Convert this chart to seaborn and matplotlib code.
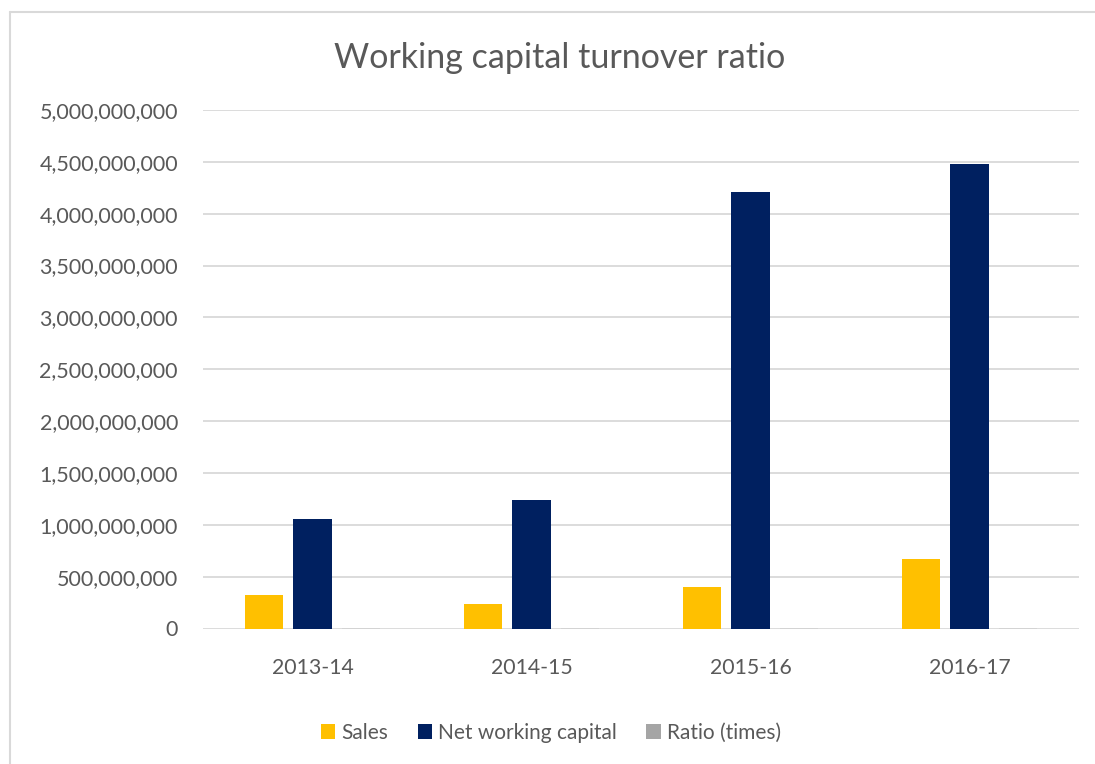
import matplotlib
matplotlib.use("Agg")
import matplotlib.pyplot as plt
from matplotlib.lines import Line2D
from matplotlib.ticker import FuncFormatter, MultipleLocator
import seaborn as sns
import pandas as pd

# Financial years and the three reported series
years = ["2013-14", "2014-15", "2015-16", "2016-17"]
sales = [323_000_000, 236_000_000, 398_000_000, 670_000_000]
net_working_capital = [1_054_000_000, 1_240_000_000, 4_206_000_000, 4_484_000_000]
ratio_times = [0.31, 0.19, 0.09, 0.15]

series_names = ["Sales", "Net working capital", "Ratio (times)"]
series_colors = ["#FFC000", "#002060", "#A5A5A5"]

rows = []
for name, values in zip(series_names, [sales, net_working_capital, ratio_times]):
    for yr, v in zip(years, values):
        rows.append({"Year": yr, "Series": name, "Value": v})
df = pd.DataFrame(rows)

sns.set_theme(style="white")
plt.rcParams["font.family"] = ["Lato", "DejaVu Sans"]

text_color = "#595959"
grid_color = "#D9D9D9"

fig = plt.figure(figsize=(10.95, 7.64), dpi=100)
ax = fig.add_axes([203 / 1095, 1 - 628.5 / 764, (1079 - 203) / 1095, (628.5 - 110) / 764])

sns.barplot(
    data=df, x="Year", y="Value", hue="Series", order=years, hue_order=series_names,
    palette=series_colors, width=0.665, gap=0.216, saturation=1, ax=ax,
    legend=False, linewidth=0,
)

# The ratio is tiny on this scale; keep its bars beneath the gridlines
ratio_rgb = matplotlib.colors.to_rgba(series_colors[2])
for patch in ax.patches:
    if matplotlib.colors.to_rgba(patch.get_facecolor()) == ratio_rgb:
        patch.set_zorder(0.1)

ax.set_ylim(0, 5_000_000_000)
ax.set_xlim(-0.5, 3.5)
ax.yaxis.set_major_locator(MultipleLocator(500_000_000))
ax.yaxis.set_major_formatter(FuncFormatter(lambda v, _: f"{v:,.0f}"))
ax.grid(axis="y", color=grid_color, linewidth=1.3, zorder=0.5)
ax.set_axisbelow(True)
for side in ["top", "right", "left", "bottom"]:
    ax.spines[side].set_visible(False)
ax.set_xlabel("")
ax.set_ylabel("")
ax.tick_params(axis="y", length=0, pad=18, labelsize=15.5, labelcolor=text_color)
ax.tick_params(axis="x", length=0, pad=21, labelsize=15.3, labelcolor=text_color)

fig.text(559.5 / 1095, 1 - 58 / 764, "Working capital turnover ratio",
         ha="center", va="center", fontsize=24.5, color=text_color)

handles = [plt.Rectangle((0, 0), 1, 1, facecolor=c, edgecolor="none") for c in series_colors]
fig.legend(handles, series_names, loc="center", bbox_to_anchor=(551 / 1095, 1 - 733 / 764),
           ncol=3, frameon=False, fontsize=15, labelcolor=text_color,
           handlelength=0.7, handleheight=0.7, handletextpad=0.3, columnspacing=1.4)

# Chart-area border (open to the right and bottom edges)
fig.add_artist(Line2D([10 / 1095, 10 / 1095], [0, 1 - 12 / 764], transform=fig.transFigure,
                      color=grid_color, linewidth=1.5))
fig.add_artist(Line2D([10 / 1095, 1], [1 - 12 / 764, 1 - 12 / 764], transform=fig.transFigure,
                      color=grid_color, linewidth=1.5))

fig.savefig("out.png", dpi=100, facecolor="white")
